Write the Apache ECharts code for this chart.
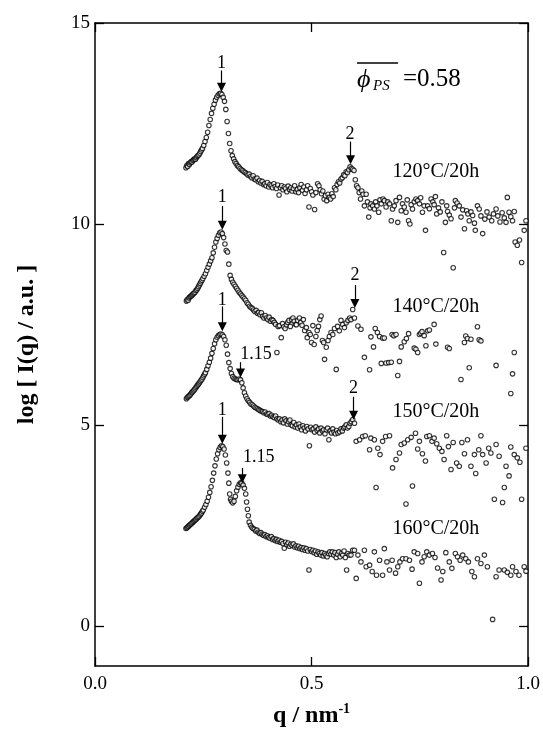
<!DOCTYPE html>
<html>
<head>
<meta charset="utf-8">
<script src="https://cdn.jsdelivr.net/npm/echarts@6/dist/echarts.min.js"></script>
<style>html,body{margin:0;padding:0;background:#fff}#chart{width:543px;height:733px}</style>
</head>
<body>
<div id="chart"></div>
<script>
// log I(q) vs q, four annealing conditions, [q, logI]
var s120 = [[0.210,11.40],[0.212,11.45],[0.214,11.43],[0.216,11.50],[0.218,11.48],[0.220,11.52],[0.222,11.55],[0.224,11.54],[0.226,11.58],[0.228,11.60],[0.230,11.62],[0.232,11.61],[0.234,11.65],[0.236,11.68],[0.238,11.70],[0.240,11.72],[0.242,11.76],[0.244,11.80],[0.246,11.84],[0.248,11.88],[0.251,11.95],[0.254,12.05],[0.257,12.15],[0.260,12.28],[0.263,12.45],[0.266,12.60],[0.269,12.75],[0.272,12.88],[0.275,12.98],[0.278,13.08],[0.281,13.15],[0.284,13.20],[0.287,13.24],[0.290,13.25],[0.293,13.22],[0.296,13.15],[0.299,13.05],[0.302,12.85],[0.305,12.55],[0.308,12.25],[0.311,12.00],[0.314,11.82],[0.317,11.70],[0.320,11.62],[0.323,11.55],[0.326,11.50],[0.329,11.45],[0.332,11.42],[0.335,11.38],[0.338,11.35],[0.341,11.33],[0.344,11.30],[0.347,11.28],[0.350,11.25],[0.353,11.22],[0.356,11.24],[0.359,11.18],[0.362,11.15],[0.365,11.20],[0.368,11.12],[0.371,11.10],[0.374,11.14],[0.377,11.05],[0.380,11.08],[0.383,11.02],[0.386,11.06],[0.389,10.98],[0.392,11.00],[0.395,10.95],[0.398,11.03],[0.401,10.92],[0.404,10.98],[0.407,10.95],[0.410,10.90],[0.413,11.00],[0.416,10.93],[0.419,10.88],[0.422,10.97],[0.425,10.72],[0.428,10.90],[0.431,10.95],[0.434,10.85],[0.437,10.92],[0.440,10.88],[0.443,10.80],[0.446,10.94],[0.449,10.86],[0.452,10.90],[0.455,10.82],[0.458,10.88],[0.461,10.95],[0.464,10.80],[0.467,10.86],[0.470,10.78],[0.473,10.90],[0.476,10.98],[0.479,10.84],[0.482,10.92],[0.485,10.76],[0.488,10.85],[0.491,10.95],[0.494,10.42],[0.497,10.88],[0.500,10.80],[0.503,10.72],[0.507,10.36],[0.510,10.78],[0.514,11.00],[0.517,10.95],[0.520,10.85],[0.523,10.75],[0.526,10.82],[0.529,10.62],[0.532,10.70],[0.535,10.58],[0.538,10.74],[0.541,10.66],[0.544,10.62],[0.547,10.75],[0.550,10.68],[0.553,10.90],[0.556,10.85],[0.559,10.98],[0.562,11.05],[0.565,11.02],[0.568,11.12],[0.571,11.15],[0.574,11.22],[0.577,11.20],[0.580,11.30],[0.583,11.28],[0.586,11.35],[0.589,11.42],[0.592,11.38],[0.595,11.36],[0.598,11.33],[0.601,11.10],[0.604,10.95],[0.607,10.90],[0.610,10.78],[0.613,10.62],[0.616,10.82],[0.619,10.74],[0.622,10.45],[0.626,10.74],[0.629,10.55],[0.632,10.17],[0.635,10.40],[0.637,10.50],[0.641,10.45],[0.645,10.37],[0.648,10.55],[0.651,10.45],[0.655,10.29],[0.658,10.60],[0.661,10.50],[0.665,10.62],[0.668,10.58],[0.672,10.42],[0.676,10.55],[0.680,10.50],[0.684,10.08],[0.687,10.37],[0.691,10.45],[0.695,10.58],[0.699,10.04],[0.703,10.66],[0.707,10.33],[0.710,10.50],[0.714,10.42],[0.718,10.29],[0.721,10.60],[0.724,10.08],[0.727,10.00],[0.730,10.48],[0.733,10.37],[0.737,10.55],[0.741,10.62],[0.745,10.58],[0.749,10.50],[0.752,10.65],[0.756,10.29],[0.760,10.45],[0.763,9.84],[0.768,10.45],[0.772,10.38],[0.776,10.62],[0.780,10.55],[0.783,10.48],[0.786,10.68],[0.789,10.25],[0.793,10.40],[0.797,10.30],[0.801,10.55],[0.805,9.29],[0.809,10.04],[0.812,10.45],[0.814,10.31],[0.818,10.22],[0.822,10.13],[0.827,8.91],[0.830,10.40],[0.832,10.58],[0.836,10.52],[0.841,10.45],[0.845,10.17],[0.849,10.35],[0.853,9.88],[0.858,10.33],[0.861,10.25],[0.864,10.08],[0.868,10.30],[0.872,10.21],[0.876,10.02],[0.878,9.84],[0.883,10.45],[0.887,10.37],[0.891,10.20],[0.895,9.76],[0.900,10.12],[0.905,10.30],[0.910,10.17],[0.916,10.08],[0.920,10.25],[0.926,10.37],[0.930,10.20],[0.935,10.05],[0.940,10.28],[0.945,10.15],[0.949,10.04],[0.952,10.66],[0.956,10.29],[0.960,10.18],[0.964,10.08],[0.968,10.31],[0.970,9.55],[0.975,9.47],[0.980,9.60],[0.985,9.04],[0.991,9.84],[0.995,10.08]];

var s140 = [[0.211,8.08],[0.213,8.12],[0.215,8.10],[0.217,8.16],[0.219,8.18],[0.221,8.20],[0.223,8.22],[0.225,8.24],[0.227,8.26],[0.229,8.28],[0.231,8.30],[0.233,8.34],[0.235,8.36],[0.237,8.40],[0.239,8.44],[0.241,8.48],[0.243,8.52],[0.245,8.56],[0.247,8.60],[0.249,8.64],[0.252,8.70],[0.255,8.76],[0.258,8.84],[0.261,8.92],[0.264,9.00],[0.267,9.08],[0.270,9.16],[0.273,9.28],[0.276,9.42],[0.279,9.55],[0.282,9.64],[0.285,9.72],[0.288,9.78],[0.291,9.80],[0.294,9.76],[0.297,9.66],[0.300,9.50],[0.303,9.34],[0.306,9.30],[0.309,9.00],[0.312,8.72],[0.315,8.62],[0.318,8.55],[0.321,8.50],[0.324,8.45],[0.327,8.40],[0.330,8.35],[0.333,8.30],[0.336,8.26],[0.339,8.22],[0.342,8.18],[0.345,8.14],[0.348,8.10],[0.351,8.04],[0.354,8.00],[0.357,7.95],[0.360,7.92],[0.363,7.90],[0.366,7.86],[0.369,7.82],[0.372,7.85],[0.375,7.78],[0.378,7.80],[0.381,7.74],[0.384,7.79],[0.387,7.70],[0.390,7.66],[0.393,7.72],[0.396,7.66],[0.399,7.62],[0.402,7.68],[0.405,7.58],[0.408,7.62],[0.411,7.60],[0.414,7.55],[0.417,7.50],[0.420,6.80],[0.423,7.45],[0.426,7.47],[0.430,7.17],[0.433,7.52],[0.436,7.44],[0.439,7.40],[0.442,7.49],[0.445,7.55],[0.448,7.60],[0.451,7.45],[0.454,7.62],[0.457,7.66],[0.460,7.58],[0.463,7.50],[0.465,7.49],[0.468,7.60],[0.472,7.66],[0.475,7.55],[0.478,7.48],[0.481,7.62],[0.484,7.35],[0.488,7.42],[0.490,7.17],[0.494,7.30],[0.497,7.25],[0.500,7.05],[0.503,7.47],[0.506,7.00],[0.510,7.20],[0.513,7.35],[0.516,7.45],[0.519,7.62],[0.522,7.71],[0.525,7.10],[0.528,7.05],[0.530,6.63],[0.534,6.93],[0.538,7.10],[0.541,7.20],[0.545,7.30],[0.549,7.25],[0.553,7.40],[0.557,6.38],[0.560,7.45],[0.564,7.34],[0.568,7.60],[0.572,7.50],[0.576,7.42],[0.580,7.54],[0.584,7.60],[0.588,7.66],[0.591,7.62],[0.595,7.87],[0.599,7.66],[0.607,7.46],[0.614,7.38],[0.622,6.68],[0.634,6.37],[0.637,7.19],[0.643,6.94],[0.647,7.40],[0.652,7.30],[0.657,7.20],[0.661,6.53],[0.664,7.16],[0.668,7.16],[0.672,6.54],[0.678,6.55],[0.684,6.56],[0.686,7.25],[0.690,7.22],[0.695,7.25],[0.699,6.23],[0.703,6.58],[0.707,6.94],[0.714,7.07],[0.719,7.15],[0.724,7.27],[0.737,6.91],[0.741,6.88],[0.745,6.80],[0.749,7.25],[0.752,7.28],[0.755,7.32],[0.760,7.22],[0.764,6.97],[0.768,7.34],[0.772,7.36],[0.783,7.50],[0.787,7.01],[0.814,6.93],[0.818,6.90],[0.845,6.13],[0.853,7.05],[0.856,7.21],[0.860,7.15],[0.864,6.42],[0.868,7.13],[0.883,7.44],[0.887,7.12],[0.891,7.09],[0.926,6.48],[0.960,5.78],[0.964,6.27],[0.968,6.80]];

var s150 = [[0.211,5.65],[0.213,5.68],[0.215,5.70],[0.217,5.72],[0.219,5.74],[0.221,5.77],[0.223,5.80],[0.225,5.82],[0.227,5.84],[0.229,5.87],[0.231,5.90],[0.233,5.93],[0.235,5.96],[0.237,5.99],[0.239,6.02],[0.241,6.05],[0.243,6.08],[0.245,6.11],[0.247,6.14],[0.249,6.18],[0.251,6.22],[0.253,6.26],[0.255,6.30],[0.258,6.38],[0.261,6.47],[0.264,6.56],[0.267,6.66],[0.270,6.78],[0.273,6.90],[0.276,7.02],[0.279,7.12],[0.282,7.18],[0.285,7.22],[0.288,7.25],[0.291,7.26],[0.294,7.24],[0.297,7.20],[0.300,7.12],[0.303,6.98],[0.306,6.76],[0.309,6.55],[0.312,6.40],[0.315,6.28],[0.318,6.20],[0.321,6.16],[0.324,6.14],[0.327,6.13],[0.330,6.12],[0.333,6.14],[0.336,6.12],[0.339,6.05],[0.342,5.92],[0.345,5.80],[0.348,5.72],[0.351,5.65],[0.354,5.60],[0.357,5.56],[0.360,5.52],[0.363,5.50],[0.366,5.47],[0.369,5.44],[0.372,5.42],[0.375,5.40],[0.378,5.38],[0.381,5.36],[0.384,5.34],[0.387,5.33],[0.390,5.30],[0.393,5.32],[0.396,5.27],[0.399,5.26],[0.402,5.28],[0.405,5.22],[0.408,5.24],[0.411,5.20],[0.414,5.18],[0.417,5.22],[0.420,5.15],[0.423,5.12],[0.426,5.15],[0.429,5.08],[0.432,5.12],[0.435,5.05],[0.438,5.15],[0.441,5.10],[0.444,5.02],[0.447,5.08],[0.450,5.12],[0.453,5.00],[0.456,4.98],[0.459,5.06],[0.462,4.95],[0.465,5.00],[0.468,4.92],[0.471,5.02],[0.474,4.95],[0.477,4.88],[0.480,4.98],[0.483,4.92],[0.486,4.85],[0.489,4.96],[0.492,4.90],[0.495,4.48],[0.498,4.94],[0.501,4.88],[0.504,4.90],[0.507,4.82],[0.510,4.95],[0.513,4.86],[0.516,4.90],[0.519,4.80],[0.522,4.92],[0.525,4.85],[0.528,4.88],[0.531,4.78],[0.534,4.88],[0.537,4.92],[0.540,4.63],[0.543,4.85],[0.546,4.80],[0.549,4.90],[0.552,4.82],[0.555,4.78],[0.558,4.86],[0.561,4.80],[0.565,4.83],[0.568,4.90],[0.571,4.85],[0.574,4.92],[0.577,4.95],[0.580,5.00],[0.583,4.92],[0.586,4.96],[0.589,5.04],[0.592,5.08],[0.595,5.13],[0.599,5.04],[0.603,4.59],[0.611,4.63],[0.618,4.71],[0.624,4.73],[0.634,4.38],[0.637,4.67],[0.645,4.63],[0.649,3.44],[0.653,4.42],[0.658,4.26],[0.664,4.59],[0.671,4.71],[0.680,4.73],[0.687,3.93],[0.695,4.14],[0.703,4.30],[0.707,4.51],[0.714,4.55],[0.718,3.03],[0.722,4.63],[0.730,4.69],[0.733,3.48],[0.740,4.79],[0.745,4.40],[0.749,4.59],[0.756,4.28],[0.763,4.10],[0.766,4.71],[0.772,4.73],[0.778,4.59],[0.783,4.67],[0.789,4.53],[0.795,4.42],[0.801,4.34],[0.806,4.14],[0.812,4.73],[0.816,4.46],[0.822,3.89],[0.827,4.56],[0.835,4.05],[0.841,3.97],[0.847,4.56],[0.853,4.28],[0.860,4.63],[0.868,3.97],[0.876,4.26],[0.879,3.79],[0.886,4.38],[0.891,4.73],[0.895,4.26],[0.903,4.05],[0.909,4.42],[0.914,4.30],[0.922,3.15],[0.926,4.51],[0.933,4.22],[0.941,3.07],[0.945,3.44],[0.949,3.97],[0.956,3.73],[0.960,4.45],[0.968,4.26],[0.975,4.18],[0.981,4.07],[0.985,3.15],[0.995,4.42]];

var s160 = [[0.210,2.42],[0.212,2.44],[0.214,2.46],[0.216,2.48],[0.218,2.50],[0.220,2.52],[0.222,2.54],[0.224,2.56],[0.226,2.58],[0.228,2.60],[0.230,2.62],[0.232,2.64],[0.234,2.66],[0.236,2.68],[0.238,2.70],[0.240,2.72],[0.242,2.75],[0.244,2.78],[0.246,2.81],[0.248,2.85],[0.250,2.88],[0.253,2.95],[0.256,3.02],[0.259,3.10],[0.262,3.20],[0.265,3.32],[0.268,3.46],[0.271,3.62],[0.274,3.80],[0.277,3.98],[0.280,4.15],[0.283,4.28],[0.286,4.38],[0.289,4.44],[0.292,4.48],[0.295,4.46],[0.298,4.40],[0.301,4.25],[0.304,4.05],[0.307,3.80],[0.309,3.55],[0.311,3.28],[0.313,3.15],[0.315,3.10],[0.318,3.06],[0.321,3.10],[0.324,3.22],[0.327,3.36],[0.330,3.45],[0.333,3.52],[0.336,3.56],[0.339,3.55],[0.342,3.50],[0.345,3.42],[0.348,3.28],[0.350,3.08],[0.352,2.90],[0.354,2.74],[0.356,2.58],[0.359,2.50],[0.362,2.45],[0.365,2.42],[0.368,2.40],[0.371,2.36],[0.374,2.38],[0.377,2.33],[0.380,2.30],[0.383,2.32],[0.386,2.28],[0.389,2.25],[0.392,2.27],[0.395,2.22],[0.398,2.24],[0.401,2.20],[0.404,2.18],[0.407,2.22],[0.410,2.15],[0.413,2.17],[0.416,2.12],[0.419,2.15],[0.422,2.10],[0.425,2.13],[0.428,2.08],[0.431,2.10],[0.434,2.05],[0.437,1.93],[0.440,2.08],[0.443,2.02],[0.446,2.06],[0.449,1.98],[0.452,2.03],[0.455,2.00],[0.458,2.04],[0.461,1.96],[0.464,1.99],[0.467,1.94],[0.470,1.98],[0.473,1.92],[0.476,1.95],[0.479,1.90],[0.482,1.94],[0.485,1.88],[0.488,1.92],[0.491,1.86],[0.494,1.39],[0.497,1.90],[0.500,1.85],[0.503,1.88],[0.506,1.82],[0.509,1.86],[0.512,1.78],[0.515,1.84],[0.518,1.80],[0.521,1.76],[0.524,1.82],[0.527,1.74],[0.530,1.80],[0.533,1.76],[0.536,1.72],[0.539,1.80],[0.542,1.84],[0.545,1.78],[0.548,1.84],[0.551,1.76],[0.554,1.82],[0.557,1.70],[0.560,1.78],[0.563,1.84],[0.566,1.72],[0.569,1.80],[0.572,1.76],[0.575,1.86],[0.578,1.70],[0.581,1.39],[0.584,1.80],[0.587,1.76],[0.591,1.76],[0.595,1.88],[0.599,1.88],[0.603,1.18],[0.607,1.76],[0.614,1.59],[0.622,1.88],[0.626,1.47],[0.634,1.51],[0.640,1.35],[0.645,1.84],[0.650,1.26],[0.657,1.63],[0.664,1.26],[0.668,1.92],[0.674,1.59],[0.680,1.39],[0.686,1.63],[0.694,1.31],[0.699,1.47],[0.704,1.59],[0.710,1.67],[0.718,1.67],[0.726,1.63],[0.732,1.41],[0.737,1.84],[0.745,1.80],[0.749,1.06],[0.755,1.59],[0.760,1.72],[0.766,1.84],[0.772,1.76],[0.779,1.80],[0.785,1.70],[0.791,1.44],[0.799,1.14],[0.803,1.35],[0.810,1.82],[0.818,1.59],[0.824,1.43],[0.832,1.80],[0.837,1.72],[0.843,1.63],[0.849,1.76],[0.856,1.67],[0.862,1.59],[0.870,1.35],[0.876,1.22],[0.883,1.67],[0.891,1.55],[0.899,1.76],[0.906,1.47],[0.918,0.16],[0.926,1.22],[0.933,1.39],[0.945,1.39],[0.952,1.33],[0.960,1.26],[0.964,1.47],[0.972,1.35],[0.979,1.26],[0.991,1.47],[0.995,1.36]];

var yTicks = [0, 5, 10, 15];
// peak labels: [text, q, logI]
var peakLabels = [['1',0.292,14.0],['2',0.589,12.22],['1',0.294,10.66],['2',0.600,8.73],['1',0.294,8.11],['1.15',0.372,6.76],['2',0.597,5.92],['1',0.294,5.37],['1.15',0.378,4.20]];
// arrows: [q, from, to]
var peakArrows = [[0.292,13.82,13.40],[0.590,12.05,11.60],[0.294,10.45,9.97],[0.600,8.48,8.02],[0.294,7.95,7.44],[0.336,6.56,6.29],[0.597,5.70,5.24],[0.294,5.20,4.64],[0.340,3.93,3.66]];
var tempLabels = [['120°C/20h',0.787,11.31],['140°C/20h',0.787,7.95],['150°C/20h',0.787,5.33],['160°C/20h',0.787,2.41]];

var serif = '"Liberation Serif", "Times New Roman", serif';
var chart = echarts.init(document.getElementById('chart'));

function dots(name, data) {
    return {
        name: name, type: 'scatter', data: data, symbol: 'circle', symbolSize: 4.5,
        itemStyle: { color: '#fff', borderColor: '#000', borderWidth: 1.1 }, silent: true
    };
}

var txt = [];
peakLabels.forEach(function (p) {
    txt.push({ name: p[0], value: [p[1], p[2]], label: { fontSize: 18 } });
});
tempLabels.forEach(function (p) {
    txt.push({ name: p[0], value: [p[1], p[2]], label: { fontSize: 20 } });
});

var axisLineStyle = { color: '#000', width: 1.5 };
var tickStyle = { inside: true, length: 9, lineStyle: { color: '#000', width: 1.3 } };

var option = {
    animation: false,
    backgroundColor: '#fff',
    grid: { left: 95, right: 14, top: 23, bottom: 61 },
    xAxis: [{
        type: 'value', min: 0, max: 1, interval: 0.5, position: 'bottom',
        axisLine: { onZero: false, lineStyle: axisLineStyle }, axisTick: tickStyle, splitLine: { show: false },
        axisLabel: { color: '#000', fontFamily: serif, fontSize: 19, margin: 9, formatter: function (v) { return v.toFixed(1); } },
        name: 'q / nm{sup|-1}', nameLocation: 'middle', nameGap: 36,
        nameTextStyle: { color: '#000', fontFamily: serif, fontSize: 24, fontWeight: 'bold',
            rich: { sup: { fontFamily: serif, fontSize: 14, fontWeight: 'bold', padding: [0, 0, 14, 0] } } }
    }, {
        type: 'value', min: 0, max: 1, interval: 0.5, position: 'top',
        axisLine: { onZero: false, lineStyle: axisLineStyle }, axisTick: tickStyle, axisLabel: { show: false }, splitLine: { show: false }
    }],
    yAxis: [{
        type: 'value', min: -1, max: 15, position: 'left',
        axisLine: { onZero: false, lineStyle: axisLineStyle }, splitLine: { show: false },
        axisTick: { inside: true, length: 9, lineStyle: { color: '#000', width: 1.3 }, customValues: yTicks },
        axisLabel: { color: '#000', fontFamily: serif, fontSize: 19, margin: 5, customValues: yTicks },
        name: 'log [ I(q) / a.u. ]', nameLocation: 'middle', nameGap: 56,
        nameTextStyle: { color: '#000', fontFamily: serif, fontSize: 24, fontWeight: 'bold' }
    }, {
        type: 'value', min: -1, max: 15, position: 'right',
        axisLine: { onZero: false, lineStyle: axisLineStyle }, splitLine: { show: false },
        axisTick: { inside: true, length: 9, lineStyle: { color: '#000', width: 1.3 }, customValues: yTicks },
        axisLabel: { show: false }
    }],
    series: [
        dots('120°C/20h', s120),
        dots('140°C/20h', s140),
        dots('150°C/20h', s150),
        dots('160°C/20h', s160),
        {
            name: 'notes', type: 'scatter', data: txt, symbolSize: 0, silent: true,
            itemStyle: { color: '#000', opacity: 0 },
            label: {
                show: true, position: [0, 0], align: 'center', verticalAlign: 'middle',
                color: '#000', opacity: 1, textBorderWidth: 0, fontFamily: serif,
                formatter: function (p) { return p.name; }
            },
            markLine: {
                silent: true, symbol: ['none', 'triangle'], symbolSize: 9,
                itemStyle: { color: '#000', opacity: 1 },
                lineStyle: { color: '#000', width: 1.2, type: 'solid', opacity: 1 },
                label: { show: false },
                data: peakArrows.map(function (a) {
                    return [{ coord: [a[0], a[1]] }, { coord: [a[0], a[2]] }];
                })
            }
        }
    ],
    graphic: [
        { type: 'text', x: 357, y: 80, style: { text: '\u03D5', fontFamily: serif, fontSize: 26, fontStyle: 'italic', fill: '#000', verticalAlign: 'middle' } },
        { type: 'text', x: 373, y: 86, style: { text: 'PS', fontFamily: serif, fontSize: 15, fontStyle: 'italic', fill: '#000', verticalAlign: 'middle' } },
        { type: 'line', shape: { x1: 357, y1: 63, x2: 398, y2: 63 }, style: { stroke: '#000', lineWidth: 1.3 } },
        { type: 'text', x: 403, y: 79, style: { text: '=0.58', fontFamily: serif, fontSize: 25, fill: '#000', verticalAlign: 'middle' } }
    ]
};

option && chart.setOption(option);
</script>
</body>
</html>
